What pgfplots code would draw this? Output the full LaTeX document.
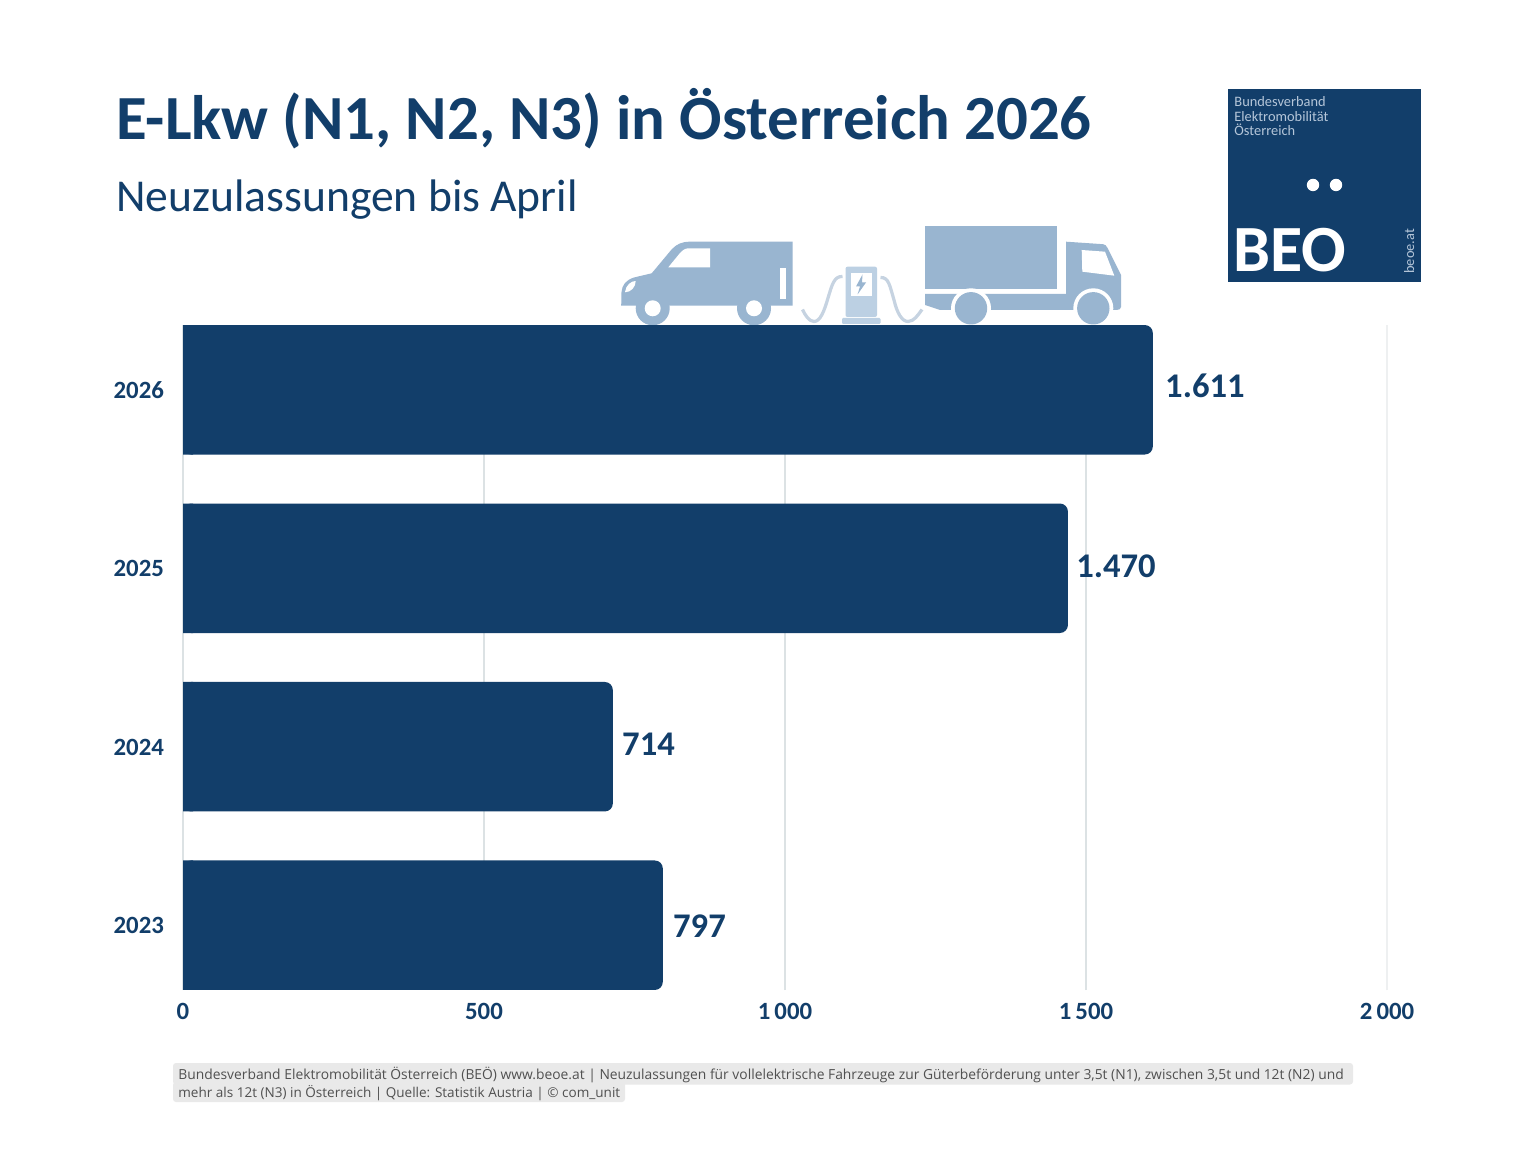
\documentclass[border=0pt]{standalone}
\usepackage{pgfplots}
\usepackage{pgfplotstable}
\usepackage{fontspec}
\setmainfont{Carlito}
\newfontfamily\footfont{Open Sans}
\pgfplotsset{compat=1.18}
\definecolor{navy}{HTML}{123E6A}
\definecolor{icon}{HTML}{99B5D0}
\definecolor{iconl}{HTML}{BCD0E3}
\definecolor{cable}{HTML}{C6D3E1}
\definecolor{gridc}{HTML}{DCE2E4}
\definecolor{gridl}{HTML}{EEF0F1}
\definecolor{logot}{HTML}{B5C6D9}
\definecolor{footbg}{HTML}{E9E9E9}
\definecolor{footfg}{HTML}{505050}
\pgfplotstableread{
year value dx dy
2026 1611 6 2
2025 1470 4 1
2024 714 4.5 1
2023 797 5 -0.5
}\bardata
\begin{document}
\begin{tikzpicture}
\path[use as bounding box,fill=white] (0,0) rectangle (768pt,576pt);
\begin{scope}[shift={(0,576pt)},x=0.5pt,y=-0.5pt]
% title
\node[anchor=base west,inner sep=0,text=navy,font=\fontsize{31.4}{31.4}\selectfont\bfseries] at (116,140) {E-Lkw (N1, N2, N3) in Österreich 2026};
\node[anchor=base west,inner sep=0,text=navy,font=\fontsize{22.8}{22.8}\selectfont] at (116,212) {Neuzulassungen bis April};
% logo
\fill[navy] (1228,89) rectangle (1421,282);
\node[anchor=base west,inner sep=0,text=logot,font=\fontsize{7.2}{7.2}\selectfont] at (1234,107) {Bundesverband};
\node[anchor=base west,inner sep=0,text=logot,font=\fontsize{7.2}{7.2}\selectfont] at (1234,121.5) {Elektromobilität};
\node[anchor=base west,inner sep=0,text=logot,font=\fontsize{7.2}{7.2}\selectfont] at (1234,136) {Österreich};
\fill[white] (1313,185) circle (6.2) (1336,185) circle (6.2);
\node[anchor=base west,inner sep=0,text=white,font=\fontsize{33}{33}\selectfont\bfseries] at (1233,272) {BEO};
\node[anchor=base west,rotate=90,inner sep=0,text=logot,font=\fontsize{7.2}{7.2}\selectfont] at (1414,274) {beoe.at};
% van
\fill[icon] (792.7,241.7) -- (690,241.7) .. controls (682,241.7) and (677,244) .. (672,249) -- (651.7,273.3) -- (634,277.5) .. controls (626,280) and (622,285) .. (621.5,292) -- (621.2,305.7) -- (792.7,305.7) -- cycle;
\fill[icon] (652.7,308.3) circle (17) (754,308.3) circle (17);
\fill[white] (652.7,308.3) circle (8) (754,308.3) circle (8);
\fill[white] (710,248.3) -- (689,248.3) .. controls (685,248.3) and (683,250) .. (680,253) -- (668.3,267.3) -- (710,267.3) -- cycle;
\fill[white] (780,267.7) rectangle (786,299);
\fill[white] (625,292) .. controls (626,285) and (631,281) .. (635.7,281) .. controls (635.7,287) and (631,292.3) .. (625,292.3) -- cycle;
% charger
\draw[cable,line width=1.6pt] (842.5,276.5) .. controls (834,276) and (832,285) .. (828,298) .. controls (824,312) and (820,321.5) .. (814,321.5) .. controls (809,321.5) and (805,315) .. (802.5,309.5);
\draw[cable,line width=1.6pt] (880.5,277.5) .. controls (889,277) and (890,287) .. (894,300) .. controls (897,313) and (902,321.5) .. (908,321.5) .. controls (914,321.5) and (918,315) .. (922,309.5);
\fill[iconl,rounded corners=1pt] (845.5,317) -- (845.5,266.7) -- (877,266.7) -- (877,317) -- cycle;
\fill[iconl,rounded corners=0.6pt] (842,318) rectangle (880.6,324);
\fill[white] (850.7,272.7) rectangle (872,296);
\fill[icon] (862.5,274.5) -- (856,286.5) -- (860,286.5) -- (857.5,294.5) -- (866,282.5) -- (862,282.5) -- cycle;
% truck
\fill[icon] (925,226) rectangle (1057.3,289);
\fill[icon] (1066,241.7) -- (1103,244.2) .. controls (1105,244.5) and (1106.5,245.5) .. (1107.5,248) -- (1121,275) -- (1121,307) .. controls (1121,309) and (1119,310) .. (1116.7,310) -- (1066,310) -- cycle;
\fill[icon] (925,294) -- (1070,294) -- (1070,310) -- (940,310) -- (925,305) -- cycle;
\fill[white] (1081.7,250) -- (1105,251.7) -- (1114.3,275.7) -- (1082.3,271.7) -- cycle;
\fill[white] (971,308.3) circle (20) (1093.3,308.3) circle (20);
\fill[white] (945,310.5) rectangle (1125,330);
\fill[icon] (971,308.3) circle (16.2) (1093.3,308.3) circle (16.2);
% footer
\fill[footbg,rounded corners=1.5pt] (173,1063) rectangle (1353,1084.5);
\fill[footbg,rounded corners=1.5pt] (173,1082) rectangle (625,1102);
\node[anchor=base west,inner sep=0,text=footfg,font=\footfont\fontsize{6.92}{6.92}\selectfont] at (178,1079) {Bundesverband Elektromobilität Österreich (BEÖ) www.beoe.at | Neuzulassungen für vollelektrische Fahrzeuge zur Güterbeförderung unter 3,5t (N1), zwischen 3,5t und 12t (N2) und};
\node[anchor=base west,inner sep=0,text=footfg,font=\footfont\fontsize{6.77}{6.77}\selectfont] at (178,1097) {mehr als 12t (N3) in Österreich | Quelle: Statistik Austria | © com\_unit};
\end{scope}
\begin{axis}[
  at={(91.5pt,81pt)},anchor=south west,
  scale only axis,width=602pt,height=332.5pt,
  xmin=0,xmax=2000,ymin=2022.637,ymax=2026.363,
  xtick={0,500,1000,1500},ytick={2023,2024,2025,2026},
  extra x ticks={2000},
  extra x tick style={grid style={gridl,line width=0.6pt}},
  scaled x ticks=false,
  axis line style={draw=none},
  major tick length=0pt,
  xmajorgrids,
  grid style={gridc,line width=0.6pt},
  xticklabel style={font=\fontsize{12.4}{12.4}\selectfont\bfseries,text=navy,/pgf/number format/assume math mode=true,/pgf/number format/1000 sep={\,},yshift=-3pt},
  yticklabel style={font=\fontsize{12.4}{12.4}\selectfont\bfseries,text=navy,/pgf/number format/assume math mode=true,/pgf/number format/1000 sep={},xshift=-6pt,yshift=-0.2pt},
  xbar,
  bar width=64.75pt,
  visualization depends on=\thisrow{dx}\as\dxv,
  visualization depends on=\thisrow{dy}\as\dyv,
  nodes near coords={\pgfmathprintnumber[1000 sep={.},assume math mode=true]{\pgfplotspointmeta}},
  nodes near coords style={font=\fontsize{17.3}{17.3}\selectfont\bfseries,text=navy,anchor=west,inner sep=0pt,xshift=\dxv pt,yshift=\dyv pt},
]
\addplot[fill=navy,draw=none,rounded corners=4pt] table[x=value,y=year] {\bardata};
\end{axis}
\begin{axis}[
  at={(91.5pt,81pt)},anchor=south west,
  scale only axis,width=5pt,height=332.5pt,
  xmin=0,xmax=16.6,ymin=2022.637,ymax=2026.363,
  axis lines=none,xbar,bar width=64.75pt,
]
\addplot[fill=navy,draw=none] table[x=value,y=year] {\bardata};
\end{axis}
\end{tikzpicture}
\end{document}
